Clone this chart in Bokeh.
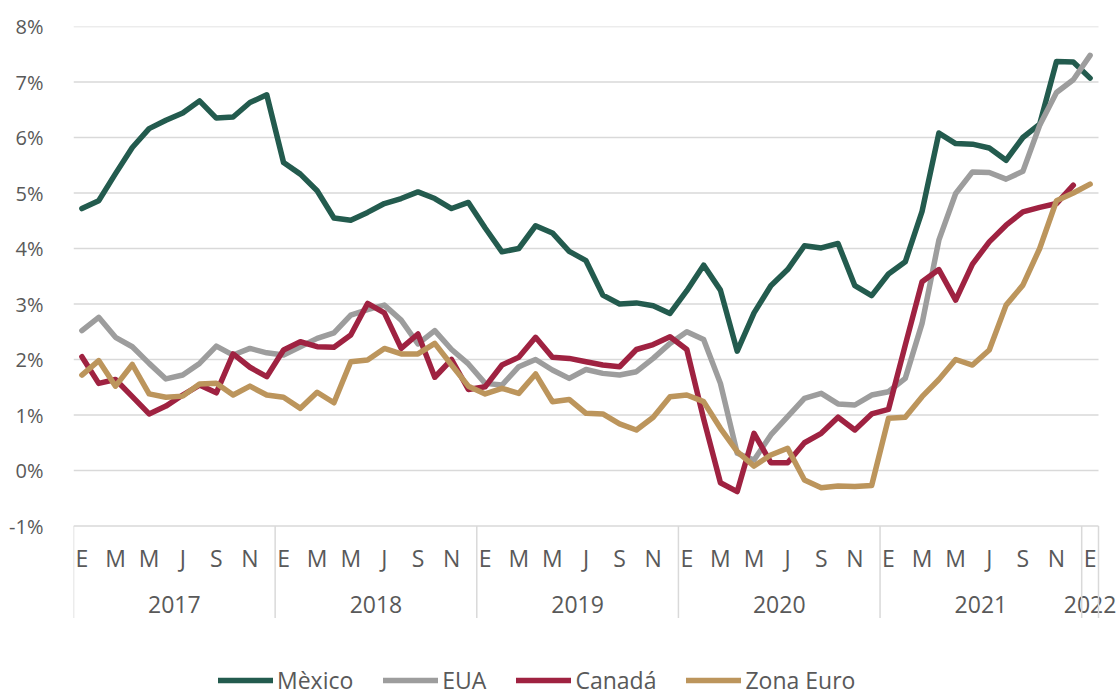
from bokeh.plotting import figure
from bokeh.models import (Range1d, FixedTicker, Legend, LegendItem,
                          ColumnDataSource, PrintfTickFormatter)
from bokeh.core.properties import value
from bokeh.embed import file_html
from bokeh.resources import INLINE

# ---------------- data ----------------
month_letters = ["E", "M", "M", "J", "S", "N"]   # Ene, Mar, May, Jul, Sep, Nov
years = ["2017", "2018", "2019", "2020", "2021", "2022"]
y_ticks = [-1, 0, 1, 2, 3, 4, 5, 6, 7, 8]

series_names = ["Mèxico", "EUA", "Canadá", "Zona Euro"]

mexico = [4.72, 4.86, 5.35, 5.82, 6.16, 6.31, 6.44, 6.66, 6.35, 6.37, 6.63, 6.77,
          5.55, 5.34, 5.04, 4.55, 4.51, 4.65, 4.81, 4.90, 5.02, 4.90, 4.72, 4.83,
          4.37, 3.94, 4.00, 4.41, 4.28, 3.95, 3.78, 3.16, 3.00, 3.02, 2.97, 2.83,
          3.24, 3.70, 3.25, 2.15, 2.84, 3.33, 3.62, 4.05, 4.01, 4.09, 3.33, 3.15,
          3.54, 3.76, 4.67, 6.08, 5.89, 5.88, 5.81, 5.59, 6.00, 6.24, 7.37, 7.36,
          7.07]

eua = [2.52, 2.76, 2.40, 2.23, 1.93, 1.65, 1.72, 1.93, 2.24, 2.08, 2.20, 2.12,
       2.08, 2.23, 2.38, 2.48, 2.80, 2.90, 2.98, 2.71, 2.28, 2.52, 2.18, 1.92,
       1.57, 1.54, 1.87, 2.00, 1.81, 1.66, 1.82, 1.75, 1.72, 1.78, 2.02, 2.29,
       2.50, 2.36, 1.57, 0.31, 0.19, 0.64, 0.97, 1.30, 1.39, 1.20, 1.18, 1.36,
       1.42, 1.66, 2.65, 4.15, 4.99, 5.38, 5.37, 5.25, 5.39, 6.22, 6.81, 7.04,
       7.48]

canada = [2.05, 1.57, 1.64, 1.33, 1.02, 1.16, 1.36, 1.54, 1.40, 2.10, 1.86, 1.69,
          2.17, 2.32, 2.23, 2.22, 2.44, 3.01, 2.84, 2.20, 2.46, 1.68, 2.00, 1.46,
          1.51, 1.90, 2.04, 2.40, 2.04, 2.02, 1.96, 1.90, 1.87, 2.18, 2.27, 2.41,
          2.18, 0.93, -0.22, -0.38, 0.67, 0.14, 0.14, 0.50, 0.67, 0.96, 0.73, 1.02,
          1.10, 2.26, 3.40, 3.62, 3.07, 3.72, 4.12, 4.42, 4.66, 4.74, 4.81, 5.14]

zona_euro = [1.72, 1.98, 1.52, 1.91, 1.38, 1.32, 1.34, 1.56, 1.57, 1.36, 1.52, 1.36,
             1.32, 1.12, 1.41, 1.22, 1.96, 1.99, 2.20, 2.10, 2.10, 2.29, 1.90, 1.52,
             1.38, 1.48, 1.39, 1.74, 1.24, 1.28, 1.03, 1.02, 0.84, 0.73, 0.96, 1.33,
             1.36, 1.24, 0.76, 0.34, 0.08, 0.28, 0.40, -0.17, -0.31, -0.28, -0.29, -0.27,
             0.94, 0.96, 1.33, 1.64, 2.00, 1.90, 2.17, 2.98, 3.34, 4.00, 4.86, 5.00,
             5.16]

# ---------------- style / layout ----------------
colors = ["#235B4E", "#9D9D9D", "#9F2241", "#BC955C"]
FONT = "Open Sans"
TXT = "#595959"
GRID = "#D9D9D9"

n_months = len(mexico)
PLOT_W = 1025            # width of the plotting area (category span)
PX_PER_MONTH = PLOT_W / n_months
PX_PER_PCT = 55.5
FRAME_W = 1047
FRAME_H = 672

x_start = -0.5
x_end = x_start + FRAME_W / PX_PER_MONTH
y_end = y_ticks[-1]
y_start = y_end - FRAME_H / PX_PER_PCT

p = figure(frame_width=FRAME_W, frame_height=FRAME_H,
           x_range=Range1d(x_start, x_end), y_range=Range1d(y_start, y_end),
           x_axis_type=None, output_backend="svg", toolbar_location=None,
           min_border_left=73, min_border_top=26, min_border_right=0, min_border_bottom=0,
           background_fill_color="white", border_fill_color="white")
p.outline_line_color = None
p.ygrid.visible = False

# y axis
yax = p.yaxis[0]
yax.ticker = FixedTicker(ticks=y_ticks)
yax.formatter = PrintfTickFormatter(format="%d%%")
yax.axis_line_color = None
yax.major_tick_line_color = None
yax.minor_tick_line_color = None
yax.major_label_standoff = 24
yax.major_label_text_font = FONT
yax.major_label_text_font_size = "20px"
yax.major_label_text_color = TXT

# horizontal gridlines across the category span
cat_lo, cat_hi = -0.5, n_months - 0.5
p.segment(x0=[cat_lo] * len(y_ticks), x1=[cat_hi] * len(y_ticks), y0=y_ticks, y1=y_ticks,
          line_color=GRID, line_width=1.5)

# category axis: month letters, year labels, year separators
y_axis_line = y_ticks[0]
month_ticks = list(range(0, n_months, 2))
month_text = [month_letters[(t % 12) // 2] for t in month_ticks]
p.text(x=month_ticks, y=[y_axis_line - 31.5 / PX_PER_PCT] * len(month_ticks), text=month_text,
       text_font=value(FONT), text_font_size=value("23px"), text_color=TXT,
       text_align="center", text_baseline="middle")

year_centers = []
for k in range(len(years)):
    s = 12 * k
    e = min(12 * k + 11, n_months - 1)
    year_centers.append((s + e) / 2)
p.text(x=year_centers, y=[y_axis_line - 78 / PX_PER_PCT] * len(years), text=years,
       text_font=value(FONT), text_font_size=value("23px"), text_color=TXT,
       text_align="center", text_baseline="middle")

year_bounds = [-0.5] + [12 * k + 11.5 for k in range(len(years) - 1)] + [n_months - 0.5]
p.segment(x0=year_bounds, x1=year_bounds,
          y0=[y_axis_line] * len(year_bounds),
          y1=[y_axis_line - 92 / PX_PER_PCT] * len(year_bounds),
          line_color=GRID, line_width=1.5)

# lines
items = []
for name, data, col in zip(series_names, [mexico, eua, canada, zona_euro], colors):
    src = ColumnDataSource(dict(x=list(range(len(data))), y=data))
    r = p.line("x", "y", source=src, line_color=col, line_width=5.5,
               line_join="round", line_cap="round")
    items.append(LegendItem(label=name, renderers=[r]))

legend = Legend(items=items, orientation="horizontal", location=(145, 2),
                border_line_color=None, background_fill_alpha=0,
                padding=0, margin=0, spacing=30, label_standoff=4,
                glyph_width=55, glyph_height=22,
                label_text_font=FONT, label_text_font_size="23px",
                label_text_color=TXT)
p.add_layout(legend)

open("out.html", "w").write(file_html(p, INLINE))
